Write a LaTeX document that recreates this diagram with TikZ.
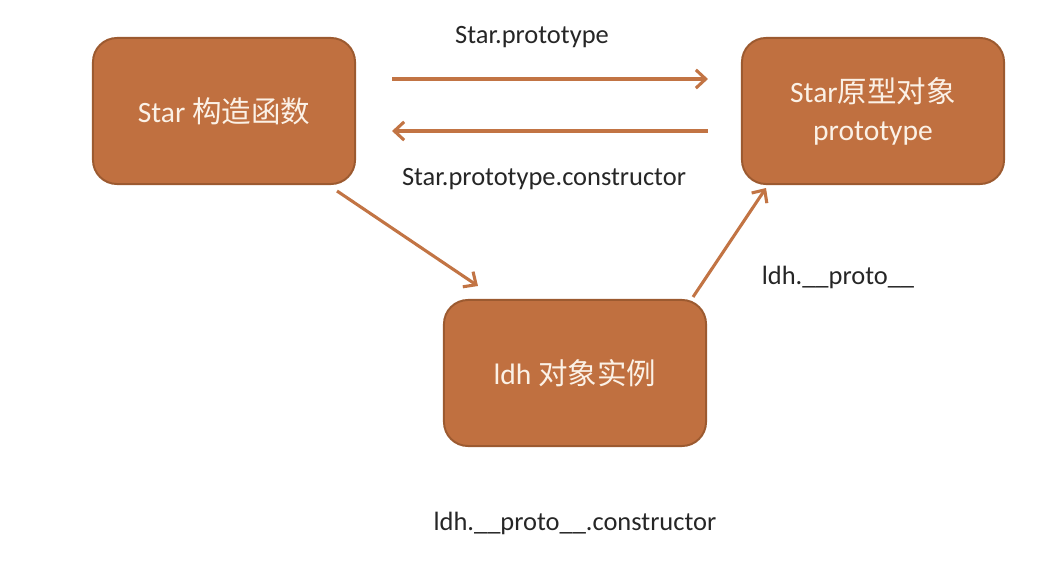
\documentclass[tikz,border=0pt]{standalone}
\usepackage{fontspec}
\setmainfont{Carlito}
\newfontfamily\cjk{Noto Sans CJK SC}
\usetikzlibrary{arrows.meta}
\definecolor{boxfill}{HTML}{C07040}
\definecolor{boxline}{HTML}{9C5A30}
\definecolor{linkcol}{HTML}{C27444}
\definecolor{boxtext}{HTML}{FBF1E6}
\tikzset{
  objbox/.style={draw=boxline, line width=1.4pt, fill=boxfill, rounded corners=0.6cm,
    minimum width=6.55cm, minimum height=3.65cm, text=boxtext, align=center,
    font=\fontsize{21}{27}\selectfont},
  link/.style={draw=linkcol, line width=2.2pt, -{Straight Barb[length=7pt,width=13pt]}},
  lbl/.style={font=\fontsize{18.8}{22}\selectfont, text=black!85}
}
\begin{document}
\begin{tikzpicture}[x=0.025cm, y=-0.025cm]
            \useasboundingbox (0,0) rectangle (1063,571);
            \node[objbox] (star) at (224,111) {Star {\cjk 构造函数}};
            \node[objbox] (proto) at (873,111) {Star{\cjk 原型对象}\\prototype};
            \node[objbox] (ldh) at (575,373) {ldh {\cjk 对象实例}};
            
            \draw[link] ([shift={(36,-32)}]star.east) -- ([shift={(-33,-32)}]proto.west);
            \draw[link] ([shift={(-33,20)}]proto.west) -- ([shift={(36,20)}]star.east);
            
            \draw[link] ([shift={(-19,6)}]star.south east) -- ([shift={(35,-13)}]ldh.north west);
            \draw[link] ([shift={(-14,-2)}]ldh.north east) -- ([shift={(25,3)}]proto.south west);
            
            \node[lbl] (l1) at (532,37) {Star.prototype};
            \node[lbl] (l2) at (544,179) {Star.prototype.constructor};
            \node[lbl] (l3) at (838,277) {ldh.\_\_proto\_\_};
            \node[lbl] (l4) at (575,523) {ldh.\_\_proto\_\_.constructor};
        \end{tikzpicture}
\end{document}
